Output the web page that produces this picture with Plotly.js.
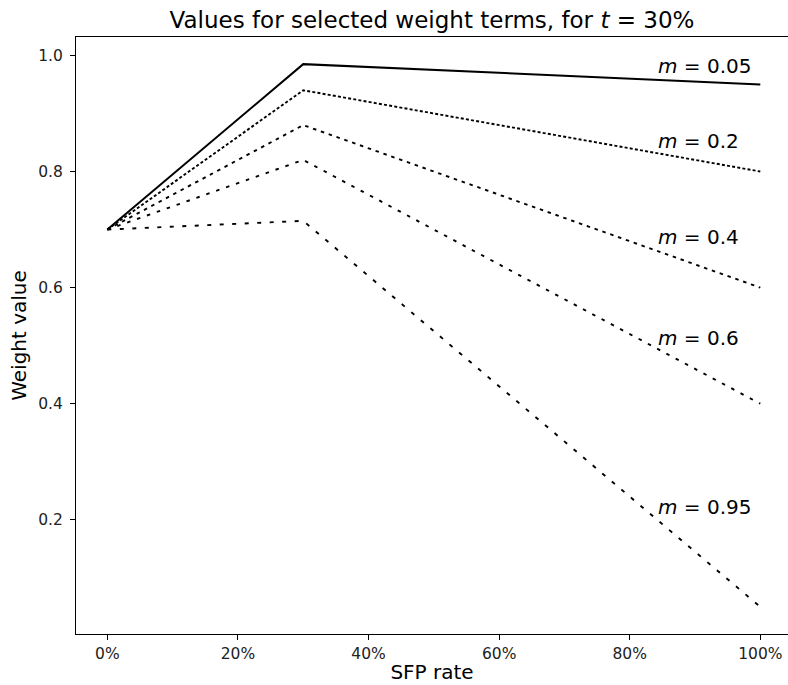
<!DOCTYPE html>
<html>
<head>
<meta charset="utf-8">
<script src="https://cdn.plot.ly/plotly-3.0.1.min.js"></script>
<style>html,body{margin:0;padding:0;background:#fff;}#chart{width:788px;height:685px;}</style>
</head>
<body>
<div id="chart"></div>
<script>
// SFP rate points
const sfpRate = [0, 0.3, 1.0];
// weight term labels (m values)
const mLabels = ["0.05", "0.2", "0.4", "0.6", "0.95"];
// weight values per series
const w005 = [0.70, 0.985, 0.95];
const w02  = [0.70, 0.94, 0.80];
const w04  = [0.70, 0.88, 0.60];
const w06  = [0.70, 0.82, 0.40];
const w095 = [0.70, 0.715, 0.05];
// label positions (x, y) in data units
const labelX = [0.84, 0.84, 0.84, 0.84, 0.84];
const labelY = [0.981, 0.852, 0.687, 0.514, 0.222];
// ticks
const xTickVals = [0, 0.2, 0.4, 0.6, 0.8, 1.0];
const xTickText = ["0%", "20%", "40%", "60%", "80%", "100%"];
const yTickVals = [0.2, 0.4, 0.6, 0.8, 1.0];
const yTickText = ["0.2", "0.4", "0.6", "0.8", "1.0"];

const seriesVals = [w005, w02, w04, w06, w095];
const dashes = ["solid", "3px,2.2px", "3.5px,4.8px", "3.5px,7px", "4px,8.5px"];
const widths = [2, 1.9, 1.9, 1.9, 1.9];

const traces = seriesVals.map((v, i) => ({
  x: sfpRate, y: v, type: "scatter", mode: "lines",
  line: {color: "#000", width: widths[i], dash: dashes[i]},
  name: "m=" + mLabels[i], showlegend: false, hoverinfo: "skip"
}));

const annotations = mLabels.map((lab, i) => ({
  x: labelX[i], y: labelY[i], xref: "x", yref: "y",
  text: "<i>m</i> = " + lab, showarrow: false,
  xanchor: "left", yanchor: "middle",
  font: {family: "DejaVu Sans", size: 20, color: "#000"}
}));

const layout = {
  width: 788, height: 685,
  margin: {l: 76, r: 0, t: 37, b: 51, pad: 0},
  paper_bgcolor: "#fff", plot_bgcolor: "#fff",
  font: {family: "DejaVu Sans", color: "#000"},
  title: {
    text: "Values for selected weight terms, for <i>t</i> = 30%",
    font: {family: "DejaVu Sans", size: 23, color: "#000"},
    xref: "paper", x: 0.5, xanchor: "center",
    yref: "container", y: 0.971, yanchor: "middle"
  },
  xaxis: {
    range: [-0.048, 1.0424], tickvals: xTickVals, ticktext: xTickText,
    showgrid: false, zeroline: false, showline: true, linecolor: "#000", linewidth: 1,
    mirror: true, ticks: "outside", ticklen: 5, tickcolor: "#000",
    tickfont: {family: "DejaVu Sans", size: 15.5, color: "#222"},
    title: {text: "SFP rate", font: {family: "DejaVu Sans", size: 20, color: "#000"}, standoff: 3}
  },
  yaxis: {
    range: [0.00325, 1.03175], tickvals: yTickVals, ticktext: yTickText,
    showgrid: false, zeroline: false, showline: true, linecolor: "#000", linewidth: 1,
    mirror: false, ticks: "outside", ticklen: 5, tickcolor: "#000", ticklabelstandoff: 4,
    tickfont: {family: "DejaVu Sans", size: 15.5, color: "#222"},
    title: {text: "Weight value", font: {family: "DejaVu Sans", size: 20, color: "#000"}, standoff: 6}
  },
  annotations: annotations
};

Plotly.newPlot("chart", traces, layout, {staticPlot: true, displayModeBar: false});
</script>
</body>
</html>
